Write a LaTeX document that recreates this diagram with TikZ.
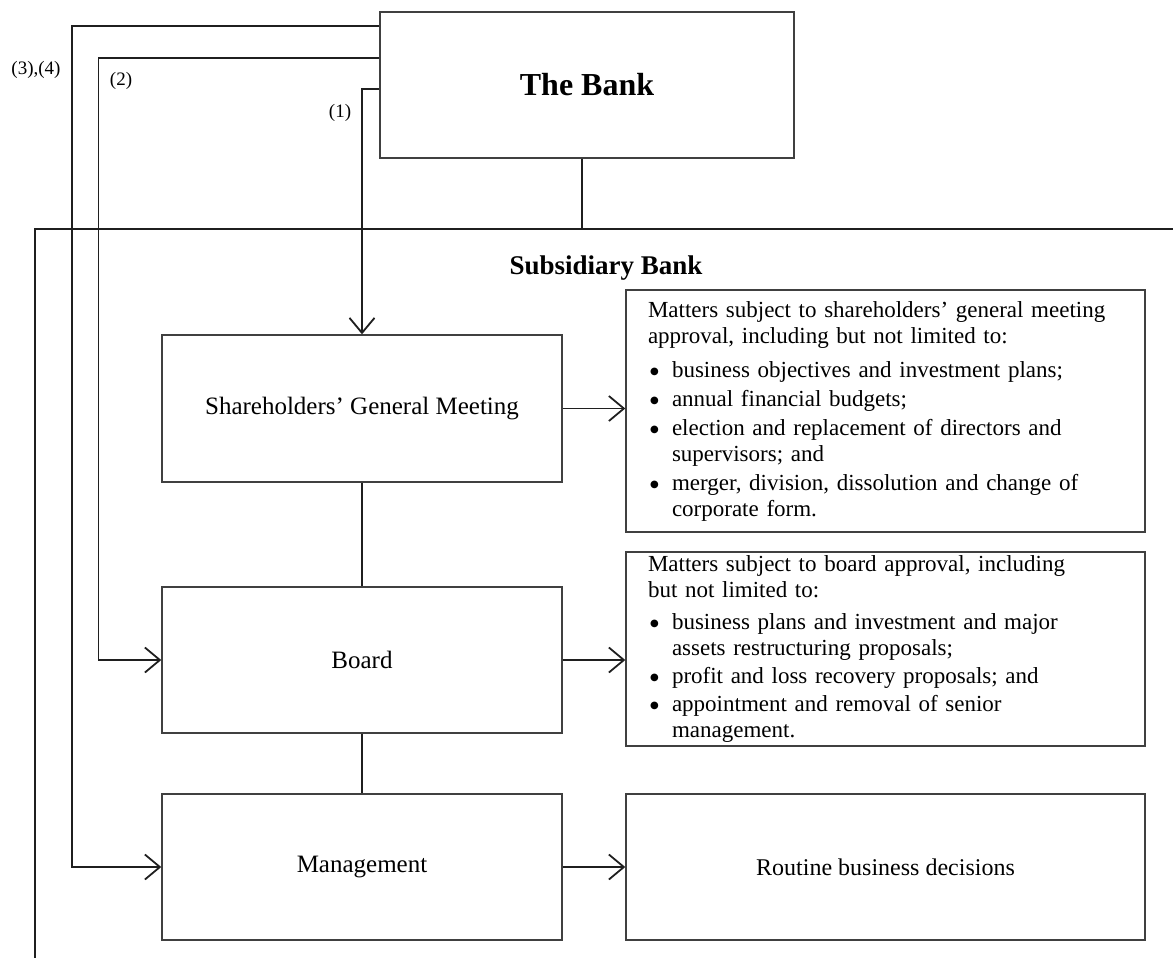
\documentclass[tikz,border=0pt]{standalone}
\usepackage{fontspec}
\setmainfont{Liberation Serif}
\newfontfamily\bulfont{DejaVu Sans}
\usetikzlibrary{arrows.meta}
\newcommand\bul{\makebox[24pt][l]{\hspace{2pt}\raisebox{3pt}{\bulfont\fontsize{10}{10}\selectfont ●}}}
\newcommand\cnt{\hspace*{24pt}}
\begin{document}
\begin{tikzpicture}[x=1pt,y=-1pt,
  box/.style={draw=black!75, line width=1.4pt, inner sep=0pt},
  conn/.style={draw=black!88, line width=1.8pt},
  arr/.style={conn, -{Straight Barb[length=15pt,width=25pt]}},
  mtext/.style={font=\fontsize{25}{30}\selectfont},
  rbox/.style={box, minimum width=519pt, inner xsep=22pt, text width=475pt, align=left, font=\fontsize{23}{26}\selectfont},
  lab/.style={font=\fontsize{19}{22}\selectfont, inner sep=0pt}]
\useasboundingbox (0,0) rectangle (1173,975);
% The Bank
\node[box, minimum width=414pt, minimum height=146pt, font=\bfseries\fontsize{32}{38}\selectfont] (bank) at (587,85) {The Bank};
% Subsidiary frame
\coordinate (ftop) at (35,229);
\coordinate (fright) at (1173,229);
\coordinate (fbot) at (35,958);
\draw[conn] (fright) -- (ftop) -- (fbot);
\draw[conn] ([xshift=-5pt]bank.south) -- ([xshift=-5pt]bank.south |- ftop);
\node[font=\bfseries\fontsize{27}{32}\selectfont] (sub) at (606,268) {Subsidiary Bank};
% main boxes
\node[box, mtext, minimum width=400pt, minimum height=147pt] (sgm) at (362,408.5) {Shareholders’ General Meeting};
\node[box, mtext, minimum width=400pt, minimum height=146pt] (board) at (362,660) {Board};
\node[box, mtext, minimum width=400pt, minimum height=146pt] (mgmt) at (362,867) {Management};
% right boxes
\node[rbox, minimum height=242pt] (r1) at (885.5,411) {Matters subject to shareholders’ general meeting\\
approval, including but not limited to:\\[8pt]
\bul business objectives and investment plans;\\[3pt]
\bul annual financial budgets;\\[3pt]
\bul election and replacement of directors and\\
\cnt supervisors; and\\[3pt]
\bul merger, division, dissolution and change of\\
\cnt corporate form.};
\node[rbox, minimum height=194pt] (r2) at (885.5,649) {Matters subject to board approval, including\\
but not limited to:\\[6pt]
\bul business plans and investment and major\\
\cnt assets restructuring proposals;\\[2pt]
\bul profit and loss recovery proposals; and\\[2pt]
\bul appointment and removal of senior\\
\cnt management.};
\node[box, minimum width=519pt, minimum height=146pt, font=\fontsize{24}{28}\selectfont] (r3) at (885.5,867) {Routine business decisions};
% vertical links
\draw[conn] (sgm) -- (board);
\draw[conn] (board) -- (mgmt);
% arrows to right boxes
\draw[arr] (sgm.east) -- (sgm.east -| r1.west);
\draw[arr] (board.east) -- (board.east -| r2.west);
\draw[arr] (mgmt.east) -- (mgmt.east -| r3.west);
% arrows from the bank
\coordinate (c2) at (98.5,300);
\coordinate (c3) at (72,300);
\draw[arr] ([yshift=-4pt]bank.west) -| (sgm.north);
\draw[arr] ([yshift=27pt]bank.west) -| (c2) |- (board.west);
\draw[arr] ([yshift=59pt]bank.west) -| (c3) |- (mgmt.west);
% labels
\node[lab] (l34) at (36,70) {(3),(4)};
\node[lab] (l2) at (121,81) {(2)};
\node[lab] (l1) at (340,113) {(1)};
\end{tikzpicture}
\end{document}
